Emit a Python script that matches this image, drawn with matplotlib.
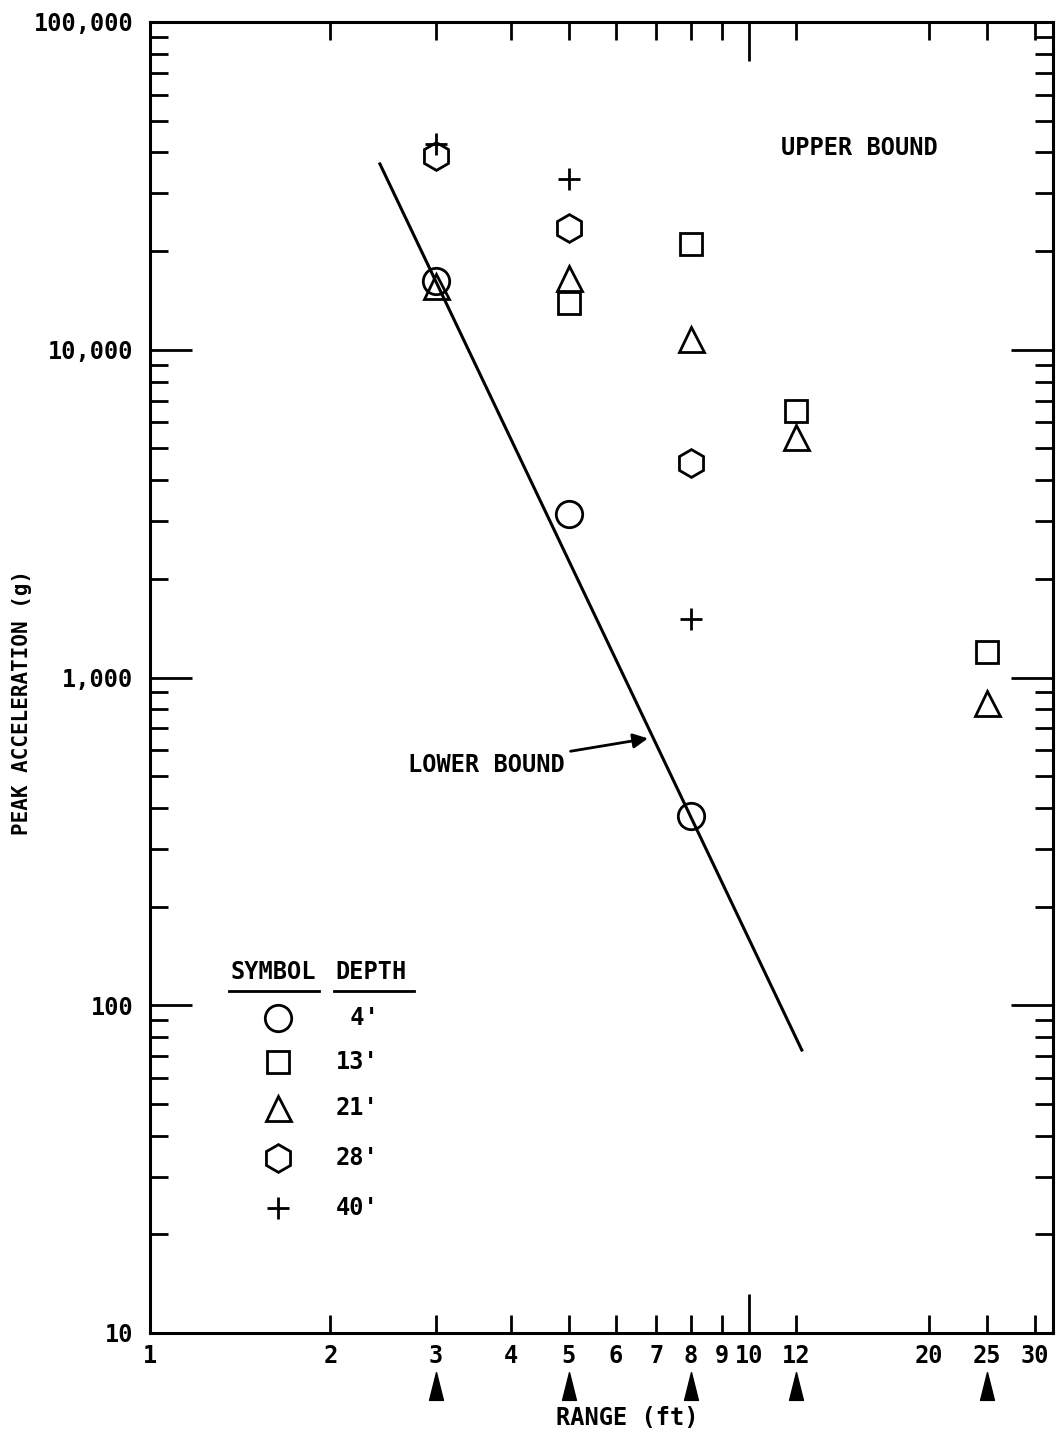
import matplotlib
matplotlib.use("Agg")
import matplotlib.pyplot as plt
from matplotlib.ticker import FixedLocator, FixedFormatter, NullFormatter
import numpy as np

plt.rcParams['font.family'] = ['DejaVu Sans Mono']
plt.rcParams['font.weight'] = 'bold'

# ---- data ----
depth_labels = ["4'", "13'", "21'", "28'", "40'"]
depth_markers = ['o', 's', '^', 'h', '+']

range_4 = [3, 5, 8]
acc_4 = [16200, 3160, 377]
range_13 = [5, 8, 12, 25]
acc_13 = [13900, 21000, 6520, 1200]
range_21 = [3, 5, 8, 12, 25]
acc_21 = [15700, 16500, 10800, 5430, 834]
range_28 = [3, 5, 8]
acc_28 = [39000, 23500, 4520]
range_40 = [3, 5, 8]
acc_40 = [42500, 33200, 1510]

lower_bound_range = [2.42, 12.25]
lower_bound_acc = [36900, 73]

gauge_ranges = [3, 5, 8, 12, 25]

x_minor_ticks = [2, 3, 4, 5, 6, 7, 8, 9, 12, 20, 25, 30]
x_major_ticks = [1, 10]
y_major_ticks = [10, 100, 1000, 10000, 100000]
y_major_labels = ["10", "100", "1,000", "10,000", "100,000"]

# ---- figure ----
W, H = 1057, 1439
fig = plt.figure(figsize=(W / 100, H / 100), dpi=100)
L, R, T, B = 150, 1053, 22, 1333
ax = fig.add_axes([L / W, 1 - B / H, (R - L) / W, (B - T) / H])
ax.set_xscale('log')
ax.set_yscale('log')
ax.set_xlim(1, 10 ** ((R - L) / 599))
ax.set_ylim(10, 100000)

for s in ax.spines.values():
    s.set_linewidth(2.2)

fs = 17
ax.xaxis.set_major_locator(FixedLocator(x_major_ticks))
ax.xaxis.set_major_formatter(FixedFormatter([str(v) for v in x_major_ticks]))
ax.xaxis.set_minor_locator(FixedLocator(x_minor_ticks))
ax.xaxis.set_minor_formatter(FixedFormatter([str(v) for v in x_minor_ticks]))
ax.yaxis.set_major_locator(FixedLocator(y_major_ticks))
ax.yaxis.set_major_formatter(FixedFormatter(y_major_labels))
ax.yaxis.set_minor_locator(FixedLocator([m * 10 ** e for e in range(1, 5) for m in range(2, 10)]))
ax.yaxis.set_minor_formatter(NullFormatter())

ax.tick_params(axis='x', which='both', direction='in', top=True, bottom=True,
               labelsize=fs, pad=8, width=2)
ax.tick_params(axis='x', which='major', length=28)
ax.tick_params(axis='x', which='minor', length=13)
ax.tick_params(axis='y', which='both', direction='in', left=True, right=True,
               labelsize=fs, pad=12, width=2)
ax.tick_params(axis='y', which='major', length=30)
ax.tick_params(axis='y', which='minor', length=13)

mk = dict(linestyle='none', markerfacecolor='none', markeredgecolor='black',
          markeredgewidth=2, color='black', clip_on=False)
ax.plot(range_4, acc_4, marker='o', markersize=19, **mk)
ax.plot(range_13, acc_13, marker='s', markersize=16, **mk)
ax.plot(range_21, acc_21, marker='^', markersize=18, **mk)
ax.plot(range_28, acc_28, marker='h', markersize=20, **mk)
ax.plot(range_40, acc_40, marker='+', markersize=16, **mk)

ax.plot(lower_bound_range, lower_bound_acc, color='black', lw=2.2)

ax.annotate("LOWER BOUND", xy=(6.78, 652), xytext=(4.93, 540),
            ha='right', va='center', fontsize=fs,
            arrowprops=dict(arrowstyle='-|>', color='black', lw=2,
                            mutation_scale=22, shrinkA=2, shrinkB=0))
ax.text(11.3, 41300, "UPPER BOUND", ha='left', va='center', fontsize=fs)

# gauge arrows below x axis
tri = [(0, 1), (-0.5, -1), (0.5, -1), (0, 1)]
ax.plot(gauge_ranges, [-0.0404] * len(gauge_ranges), linestyle='none',
        marker=tri, markersize=20, color='black',
        transform=ax.get_xaxis_transform(), clip_on=False)

# legend table
def ax_y(py):
    return (B - py) / (B - T)

def ax_x(px):
    return (px - L) / (R - L)

ax.text(ax_x(230), ax_y(972), "SYMBOL", ha='left', va='center', fontsize=fs,
        transform=ax.transAxes)
ax.text(ax_x(335), ax_y(972), "DEPTH", ha='left', va='center', fontsize=fs,
        transform=ax.transAxes)
ax.plot([ax_x(229), ax_x(319)], [ax_y(991)] * 2, color='black', lw=2,
        transform=ax.transAxes, clip_on=False)
ax.plot([ax_x(334), ax_x(414)], [ax_y(991)] * 2, color='black', lw=2,
        transform=ax.transAxes, clip_on=False)
rows = [1018, 1062, 1108, 1158, 1208]
sizes = [19, 16, 18, 20, 16]
for lab, m, py, ms in zip(depth_labels, depth_markers, rows, sizes):
    ax.plot([ax_x(278)], [ax_y(py)], marker=m, markersize=ms,
            transform=ax.transAxes, **mk)
    txt = lab if len(lab) == 3 else " " + lab
    ax.text(ax_x(336), ax_y(py), txt, ha='left', va='center', fontsize=fs,
            transform=ax.transAxes)

fig.text(627 / W, 1 - 1418 / H, "RANGE (ft)", ha='center', va='center', fontsize=fs)
fig.text(22 / W, 1 - 702 / H, "PEAK ACCELERATION (g)", ha='center', va='center',
         rotation=90, fontsize=15)

fig.savefig("out.png", dpi=100, facecolor='white')
